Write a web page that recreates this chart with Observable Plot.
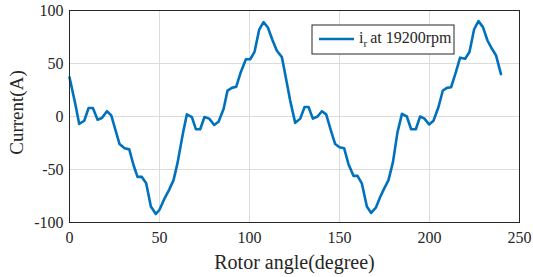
<!DOCTYPE html>
<html>
<head>
<meta charset="utf-8">
<script src="https://cdn.jsdelivr.net/npm/d3@7"></script>
<script src="https://cdn.jsdelivr.net/npm/@observablehq/plot@0.6"></script>
<style>
  html, body { margin: 0; padding: 0; background: #fff; }
  #chart svg { display: block; }
  #chart svg text { font-family: 'Liberation Serif', 'Times New Roman', serif; }
</style>
</head>
<body>
<div id="chart"></div>
<script>
const angles = [0,3.2,5.4,8.2,10.6,13,15.6,18,20.8,23.2,
  25.4,27.8,30.6,33.2,35.6,37.8,40.2,42.6,45.2,48,
  50,52.6,55.4,57.8,60,63,65.2,68,70.2,72.6,
  75,77.6,80.4,82.8,85.6,87.8,90.2,92.6,95.2,98,
  100.4,102.8,105.4,107.8,110.2,112.8,115.2,118,119.8,122.6,
  125.4,128.2,130.6,132.8,135.2,137.8,140.2,142.6,145.2,147.6,
  150,152.6,155,157.8,160,162.4,165.2,167.6,170.2,172.6,
  174.8,177.2,179.7,182.2,184.7,187.4,189.8,192.4,194.8,197.2,
  199.8,202.2,205,207.4,209.7,212,214.7,217,219.8,222.2,
  224.8,227.2,229.7,232.2,234.7,237,239.7];
const currents = [37,12,-7,-4,8,8,-3,-1.5,5,1,
  -12,-26,-30,-31,-46,-57,-57,-63,-85,-92,
  -88,-78,-69,-60,-44,-16,2,-0.5,-12,-12,
  -0.5,-2,-8,-5,7,24.5,27,28,42,54,
  54,61,82,89,84,72,62,56,40,15,
  -6,-2,9,9,-2,0,5,2,-13,-26,
  -29,-30,-45,-56,-56,-63,-85,-91,-86,-76,
  -68,-60,-43,-15,2.5,0,-12,-12,0,-2,
  -7.5,-4,9,24.5,27,27.6,42,55.5,54.5,60.8,
  82.3,90,84.3,71.7,63.9,57.5,40];
const xTicks = [0, 50, 100, 150, 200, 250];
const yTicks = [-100, -50, 0, 50, 100];
const seriesName = "19200rpm";
const xLabel = "Rotor angle(degree)";
const yLabel = "Current(A)";

const data = angles.map((a, i) => ({angle: a, current: currents[i]}));
const font = "'Liberation Serif', 'Times New Roman', serif";
const blue = "#0072BD";
const ink = "#262626";

const chart = Plot.plot({
  width: 533,
  height: 277,
  marginLeft: 69,
  marginRight: 14,
  marginTop: 10,
  marginBottom: 55,
  style: {fontFamily: font, fontSize: "16px", color: ink, background: "#fff"},
  x: {domain: [0, 250]},
  y: {domain: [-100, 100]},
  marks: [
    Plot.gridX(xTicks, {stroke: "#dcdcdc", strokeOpacity: 1}),
    Plot.gridY(yTicks, {stroke: "#dcdcdc", strokeOpacity: 1}),
    Plot.axisX({ticks: xTicks, tickSize: 0, tickPadding: 9, tickFormat: d => String(d), fontSize: 16,
      label: xLabel, labelAnchor: "center", labelOffset: 46, labelArrow: "none"}),
    Plot.axisY({ticks: yTicks, tickSize: 0, tickPadding: 6, tickFormat: d => String(d), fontSize: 16,
      label: yLabel, labelAnchor: "center", labelOffset: 60, labelArrow: "none"}),
    Plot.line(data, {x: "angle", y: "current", stroke: blue, strokeWidth: 2.6, strokeLinejoin: "round"}),
    Plot.frame({stroke: ink, strokeWidth: 1})
  ]
});
document.getElementById("chart").appendChild(chart);

const svg = d3.select(chart);
svg.selectAll("[aria-label='x-axis label'] text").style("font-size", "20px");
svg.selectAll("[aria-label='y-axis label'] text").style("font-size", "19px");
svg.selectAll("[aria-label='y-axis label']").each(function() {
  const old = this.getAttribute("transform") || "";
  this.setAttribute("transform", (old + " translate(0,-4)").trim());
});

// legend box
const g = svg.append("g").attr("text-anchor", "start");
g.append("rect").attr("x", 312).attr("y", 25).attr("width", 142).attr("height", 29)
  .attr("fill", "#fff").attr("stroke", ink).attr("stroke-width", 1);
g.append("line").attr("x1", 319).attr("x2", 354).attr("y1", 39).attr("y2", 39)
  .attr("stroke", blue).attr("stroke-width", 2.6);
const t = g.append("text").attr("x", 359).attr("y", 43).attr("font-size", 16).attr("fill", ink);
t.append("tspan").text("i");
t.append("tspan").attr("dy", 4).attr("font-size", 11).text("r");
t.append("tspan").attr("dy", -4).attr("dx", 3).text("at " + seriesName);
</script>
</body>
</html>
